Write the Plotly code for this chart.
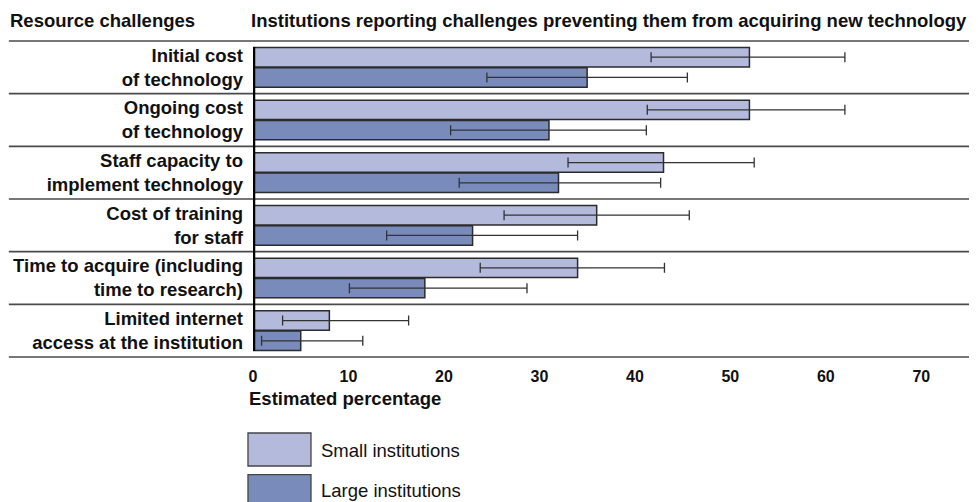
import plotly.graph_objects as go

# Resource challenges (two-line labels) and estimated percentages with 95% intervals
challenges = [
    "Initial cost<br>of technology",
    "Ongoing cost<br>of technology",
    "Staff capacity to<br>implement technology",
    "Cost of training<br>for staff",
    "Time to acquire (including<br>time to research)",
    "Limited internet<br>access at the institution",
]
small_pct = [52, 52, 43, 36, 34, 8]
small_low = [41.7, 41.3, 33.0, 26.3, 23.8, 3.1]
small_high = [62.0, 62.0, 52.5, 45.7, 43.1, 16.3]
large_pct = [35, 31, 32, 23, 18, 5]
large_low = [24.5, 20.7, 21.6, 14.0, 10.1, 0.9]
large_high = [45.5, 41.2, 42.7, 34.0, 28.7, 11.5]
tick_values = [0, 10, 20, 30, 40, 50, 60, 70]

SMALL_COLOR = "#b4badb"
LARGE_COLOR = "#788bba"
EDGE = "#2b2b2b"
TEXT = "#111111"
FONT = "Liberation Sans, Arial, sans-serif"
BIG = 18.5


def err(vals, lo, hi):
    return dict(
        type="data",
        symmetric=False,
        array=[h - v for v, h in zip(vals, hi)],
        arrayminus=[v - l for v, l in zip(vals, lo)],
        color="#333333",
        thickness=1.3,
        width=5,
    )


fig = go.Figure()
fig.add_trace(go.Bar(
    y=challenges, x=small_pct, orientation="h", name="Small institutions",
    marker=dict(color=SMALL_COLOR, line=dict(color=EDGE, width=1.5)),
    error_x=err(small_pct, small_low, small_high),
))
fig.add_trace(go.Bar(
    y=challenges, x=large_pct, orientation="h", name="Large institutions",
    marker=dict(color=LARGE_COLOR, line=dict(color=EDGE, width=1.5)),
    error_x=err(large_pct, large_low, large_high),
))

shapes = []
# section separators
for k in range(7):
    shapes.append(dict(type="line", xref="paper", yref="paper",
                       x0=-0.341, x1=1.0, y0=k / 6, y1=k / 6,
                       line=dict(color="#4a4a4a", width=1.6)))
# thick baseline at zero
shapes.append(dict(type="line", xref="x", yref="paper", x0=0, x1=0,
                   y0=0.019, y1=0.981, line=dict(color="black", width=4.5)))
# legend swatches
shapes.append(dict(type="rect", xref="paper", yref="paper",
                   x0=-0.007, x1=0.081, y0=-0.345, y1=-0.2405,
                   fillcolor=SMALL_COLOR, line=dict(color="#444", width=1.3)))
shapes.append(dict(type="rect", xref="paper", yref="paper",
                   x0=-0.007, x1=0.081, y0=-0.48, y1=-0.372,
                   fillcolor=LARGE_COLOR, line=dict(color="#444", width=1.3)))

annotations = [
    dict(text="Resource challenges", xref="paper", yref="paper",
         x=-0.342, y=1.064, xanchor="left", yanchor="middle", showarrow=False,
         font=dict(size=BIG, weight="bold", color=TEXT)),
    dict(text="Institutions reporting challenges preventing them from acquiring new technology",
         xref="paper", yref="paper", x=-0.005, y=1.064, xanchor="left",
         yanchor="middle", showarrow=False,
         font=dict(size=BIG, weight="bold", color=TEXT)),
    dict(text="Estimated percentage", xref="paper", yref="paper",
         x=-0.009, y=-0.13, xanchor="left", yanchor="middle", showarrow=False,
         font=dict(size=BIG, weight="bold", color=TEXT)),
    dict(text="Small institutions", xref="paper", yref="paper",
         x=0.092, y=-0.297, xanchor="left", yanchor="middle", showarrow=False,
         font=dict(size=BIG, color=TEXT)),
    dict(text="Large institutions", xref="paper", yref="paper",
         x=0.092, y=-0.421, xanchor="left", yanchor="middle", showarrow=False,
         font=dict(size=BIG, color=TEXT)),
]

fig.update_layout(
    width=978, height=502,
    margin=dict(l=253, r=9, t=41, b=145),
    paper_bgcolor="white", plot_bgcolor="white",
    barmode="group", bargap=0.23, bargroupgap=0.04,
    showlegend=False,
    font=dict(family=FONT, color=TEXT),
    shapes=shapes, annotations=annotations,
    xaxis=dict(range=[0, 75], tickvals=tick_values, showgrid=False,
               zeroline=False, showline=False, ticks="outside", ticklen=5,
               tickcolor="rgba(0,0,0,0)",
               tickfont=dict(size=16, weight="bold", color=TEXT)),
    yaxis=dict(autorange="reversed", showgrid=False, zeroline=False,
               showline=False, ticks="", ticklabelstandoff=9,
               tickfont=dict(size=BIG, weight="bold", color=TEXT)),
)

fig.write_html("out.html")
